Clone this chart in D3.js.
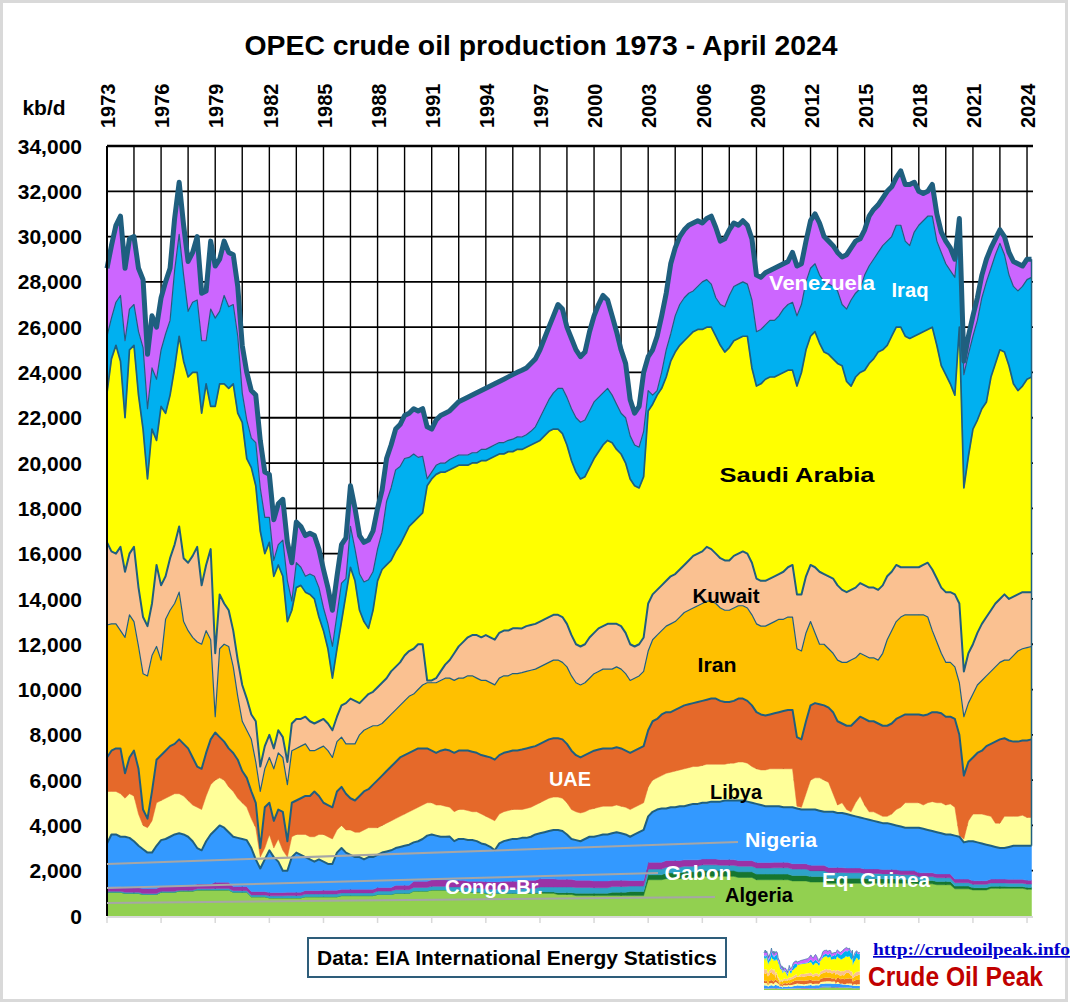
<!DOCTYPE html>
<html><head><meta charset="utf-8">
<script src="https://cdn.jsdelivr.net/npm/d3@7"></script>
<style>body{margin:0;background:#fff}svg{display:block}</style>
</head><body>
<svg id="chart" width="1073" height="1007"></svg>
<script>
// ---------------- DATA (kb/d, quarterly samples Jan/Apr/Jul/Oct, 1973 - Apr 2024) ----------------
const title = "OPEC crude oil production 1973 - April 2024";
const yTickValues = [0,2000,4000,6000,8000,10000,12000,14000,16000,18000,20000,22000,24000,26000,28000,30000,32000,34000];
const yearLabels = ["1973","1976","1979","1982","1985","1988","1991","1994","1997","2000","2003","2006","2009","2012","2015","2018","2021","2024"];
const countries = ["Algeria","Eq. Guinea","Congo-Br.","Gabon","Nigeria","Libya","UAE","Iran","Kuwait","Saudi Arabia","Iraq","Venezuela"];

const algeria = [
1050,1050,1050,1050, 1000,1000,1000,1000, 950,950,950,950, 1050,1050,1050,1050,
1100,1100,1100,1100, 1150,1150,1150,1150, 1150,1150,1150,1150, 1050,1050,1050,1050,
850,850,850,850, 800,800,800,800, 800,800,800,800, 850,850,850,850,
850,850,850,850, 900,900,900,900, 900,900,900,900, 950,950,950,950,
1000,1000,1000,1000, 1100,1100,1100,1100, 1150,1150,1150,1150, 1100,1100,1100,1100,
1050,1050,1050,1050, 1000,1000,1000,1000, 1000,1000,1000,1000, 1000,1000,1000,1000,
1000,1000,1000,1000, 950,950,950,950, 900,900,900,900, 900,900,900,900,
900,900,900,900, 900,900,900,900, 1600,1600,1600,1600, 1650,1650,1650,1650,
1700,1700,1700,1700, 1750,1750,1750,1750, 1750,1750,1750,1750, 1700,1700,1700,1700,
1600,1600,1600,1600, 1600,1600,1600,1600, 1550,1550,1550,1550, 1500,1500,1500,1500,
1450,1450,1450,1450, 1450,1450,1450,1450, 1450,1450,1450,1450, 1450,1450,1450,1450,
1450,1450,1450,1450, 1420,1420,1420,1420, 1380,1380,1380,1380, 1200,1200,1200,1200,
1150,1150,1150,1150, 1220,1220,1220,1220, 1220,1220,1220,1220, 1180,1180];

const eqGuinea = [
0,0,0,0, 0,0,0,0, 0,0,0,0, 0,0,0,0,
0,0,0,0, 0,0,0,0, 0,0,0,0, 0,0,0,0,
0,0,0,0, 0,0,0,0, 0,0,0,0, 0,0,0,0,
0,0,0,0, 0,0,0,0, 0,0,0,0, 0,0,0,0,
0,0,0,0, 0,0,0,0, 0,0,0,0, 5,5,5,5,
5,5,5,5, 5,5,5,5, 5,5,5,5, 20,20,20,20,
60,60,60,60, 80,80,80,80, 100,100,100,100, 100,100,100,100,
150,150,150,150, 180,180,180,180, 220,220,220,220, 250,250,250,250,
250,250,250,250, 250,250,250,250, 250,250,250,250, 250,250,250,250,
250,250,250,250, 250,250,250,250, 240,240,240,240, 240,240,240,240,
220,220,220,220, 220,220,220,220, 200,200,200,200, 190,190,190,190,
170,170,170,170, 150,150,150,150, 140,140,140,140, 120,120,120,120,
100,100,100,100, 90,90,90,90, 80,80,80,80, 80,80];

const congo = [
40,40,40,40, 50,50,50,50, 40,40,40,40, 40,40,40,40,
40,40,40,40, 50,50,50,50, 60,60,60,60, 70,70,70,70,
80,80,80,80, 90,90,90,90, 100,100,100,100, 120,120,120,120,
120,120,120,120, 120,120,120,120, 120,120,120,120, 150,150,150,150,
160,160,160,160, 160,160,160,160, 160,160,160,160, 180,180,180,180,
180,180,180,180, 180,180,180,180, 180,180,180,180, 200,200,200,200,
220,220,220,220, 250,250,250,250, 260,260,260,260, 250,250,250,250,
250,250,250,250, 240,240,240,240, 250,250,250,250, 250,250,250,250,
250,250,250,250, 260,260,260,260, 240,240,240,240, 250,250,250,250,
270,270,270,270, 280,280,280,280, 280,280,280,280, 260,260,260,260,
250,250,250,250, 240,240,240,240, 230,230,230,230, 220,220,220,220,
200,200,200,200, 170,170,170,170, 170,170,170,170, 150,150,150,150,
150,150,150,150, 150,150,150,150, 150,150,150,150, 150,150];

const gabon = [
200,200,200,200, 200,200,200,200, 220,220,220,220, 220,220,220,220,
220,220,220,220, 210,210,210,210, 280,280,280,280, 180,180,180,180,
150,150,150,150, 150,150,150,150, 150,150,150,150, 160,160,160,160,
170,170,170,170, 160,160,160,160, 160,160,160,160, 160,160,160,160,
200,200,200,200, 270,270,270,270, 290,290,290,290, 290,290,290,290,
300,300,300,300, 330,330,330,330, 350,350,350,350, 360,360,360,360,
360,360,360,360, 340,340,340,340, 320,320,320,320, 300,300,300,300,
280,280,280,280, 250,250,250,250, 300,300,300,300, 300,300,300,300,
280,280,280,280, 260,260,260,260, 250,250,250,250, 250,250,250,250,
240,240,240,240, 240,240,240,240, 240,240,240,240, 240,240,240,240,
220,220,220,220, 210,210,210,210, 200,200,200,200, 190,190,190,190,
180,180,180,180, 170,170,170,170, 170,170,170,170, 160,160,160,160,
160,160,160,160, 170,170,170,170, 170,170,170,170, 170,170];

const nigeria = [
1910,2310,2310,2210, 2250,2200,2050,1850, 1740,1590,1590,1890, 2040,2090,2190,2290,
2290,2240,2140,1940, 1590,1490,1890,2190, 2310,2510,2410,2210, 2200,2150,2100,2050,
1920,1420,1020,1420, 1860,1560,1360,960, 950,1550,1750,1650, 1470,1370,1270,1370,
1260,1160,1160,1660, 1820,1620,1520,1420, 1420,1320,1420,1420, 1440,1540,1590,1640,
1640,1690,1740,1790, 1720,1770,1870,2020, 2000,1950,1900,1900, 1930,1730,1830,1830,
1820,1820,1770,1670, 1640,1540,1390,1690, 1770,1820,1870,1870, 1870,1870,1920,2020,
2010,2060,2110,2160, 2180,2130,1980,1780, 1770,1720,1820,1920, 1950,2000,2050,2050,
2070,2120,2070,2020, 1930,2030,2130,2230, 2030,2230,2330,2380, 2300,2350,2350,2400,
2370,2420,2470,2470, 2480,2480,2530,2530, 2560,2610,2610,2610, 2650,2650,2600,2550,
2590,2540,2490,2490, 2480,2480,2430,2430, 2490,2440,2390,2390, 2460,2460,2410,2360,
2460,2460,2410,2410, 2380,2330,2280,2230, 2220,2170,2120,2070, 2050,2050,2000,1950,
1950,1900,1900,1900, 1990,1940,1890,1840, 1840,1790,1740,1740, 1920,1870,1620,1670,
1740,1690,1640,1590, 1470,1420,1370,1370, 1430,1480,1480,1480, 1520,1520];

const libya = [
2300,1900,1900,1900, 1700,1950,2000,1400, 1050,1100,1400,1900, 1750,1800,1800,1800,
1750,1700,1600,1600, 1800,1800,2000,2200, 2200,2100,2100,2000, 2000,1750,1600,1450,
1300,1400,500,500, 700,400,1000,900, 600,900,800,900, 1000,1000,1100,1100,
1200,1200,1100,1000, 1000,1000,1100,1100, 1100,1300,1300,1300, 1200,1200,1250,1300,
1300,1350,1400,1450, 1450,1500,1500,1450, 1400,1350,1400,1350, 1300,1300,1300,1300,
1300,1250,1300,1300, 1250,1250,1300,1300, 1300,1300,1300,1300, 1250,1300,1300,1300,
1350,1400,1450,1450, 1450,1450,1400,1300, 1250,1250,1200,1200, 1250,1250,1250,1250,
1200,1200,1200,1200, 1200,1200,1200,1200, 1300,1400,1400,1450, 1550,1550,1600,1600,
1650,1650,1650,1650, 1650,1700,1650,1650, 1650,1600,1650,1650, 1700,1700,1700,1600,
1550,1550,1600,1650, 1650,1650,1700,1700, 1700,100,100,700, 1300,1400,1450,1400,
1300,800,350,450, 200,150,600,950, 600,350,400,350, 300,300,450,700,
850,1100,1100,1100, 1100,1050,1200,1300, 1300,1350,1300,1350, 1250,50,150,900,
1200,1250,1300,1300, 1300,1050,1100,1400, 1350,1300,1300,1350, 1250,1250];

const uae = [
1500,1800,1900,2000, 1100,1600,2000,2000, 700,400,1300,1900, 2000,2100,2200,2200,
2400,2300,2300,2100, 1800,1800,1900,2000, 2100,1800,1700,1700, 1700,1700,1400,1300,
1200,1100,400,1800, 1400,1200,1300,1700, 700,1500,1500,1600, 1700,1800,2000,1700,
1400,1400,1400,1700, 1700,1600,1400,1400, 1600,1700,1700,1900, 2100,2200,2300,2400,
2500,2600,2600,2600, 2600,2600,2500,2400, 2300,2300,2400,2500, 2500,2600,2600,2600,
2650,2650,2600,2600, 2650,2700,2700,2600, 2600,2600,2600,2600, 2650,2650,2650,2600,
2600,2600,2600,2600, 2600,2600,2600,2600, 2500,2450,2500,2500, 2550,2550,2550,2550,
2550,2550,2550,2500, 2500,2500,2500,2500, 2500,2600,2600,2700, 2700,2650,2700,2750,
2800,2800,2800,2850, 2850,2850,2900,2900, 2800,2750,2700,2750, 2800,2800,2750,2700,
2500,2450,2400,2400, 2450,2500,2550,2600, 2600,3050,3000,3200, 3300,3300,3250,3300,
3300,3600,3700,3500, 3700,3800,3600,3500, 3800,4000,4000,4000, 4000,4000,4000,4000,
4000,3900,3900,3900, 3900,3950,3900,3950, 4000,3950,3900,3850, 3900,4450,2800,2600,
2500,2700,2800,3050, 3200,3600,3700,3450, 3350,3300,3300,3300, 3400,3450];

const iran = [
5850,5600,5500,5200, 6000,6300,5700,5400, 6000,6300,6000,5000, 4200,5800,6000,6200,
6500,5400,5200,5300, 5500,5500,5400,4400, 700,3900,4300,4500, 3800,2800,2200,2100,
2300,1800,2500,1700, 2000,2300,2500,2400, 2500,2300,2300,2300, 2300,2000,1800,2100,
2500,2400,2200,2200, 2200,2200,2400,2500, 2700,2700,2700,2600, 2400,2300,2300,2300,
2300,2300,2400,2500, 2500,2600,2800,2900, 3000,3100,3100,3150, 3200,3200,3200,3200,
3300,3350,3300,3300, 3350,3300,3300,3400, 3400,3350,3400,3400, 3400,3400,3400,3400,
3400,3400,3400,3450, 3450,3400,3400,3300, 3200,3200,3200,3300, 3400,3450,3500,3500,
3500,3550,3500,3400, 3200,3200,3200,3300, 3500,3600,3700,3700, 3800,3900,3900,4000,
4100,4150,4200,4250, 4300,4350,4300,4200, 4100,4050,4050,4100, 4100,4100,4100,4000,
3900,3900,3950,4000, 4050,4100,4050,4100, 4100,3900,3900,3900, 3700,3100,2650,2700,
2600,2600,2700,2700, 2800,2900,2800,2800, 2800,2800,2800,2800, 3200,3800,4100,4300,
4400,4400,4400,4400, 4400,4450,4300,3600, 3100,2650,2400,2400, 2300,2300,2600,2600,
2800,3000,3100,3100, 3200,3300,3400,3450, 3550,3800,4000,4050, 4100,4100];

const kuwait = [
3650,3200,3100,3700, 2900,2700,3300,2600, 2500,2200,2300,3600, 3300,1900,2300,2600,
2900,2800,3000,3600, 4200,2600,2900,4000, 2800,2400,1800,1600, 1600,1600,1600,1400,
1100,1800,1100,1000, 1000,900,1000,900, 1000,1200,1300,1200, 1200,1300,1200,1200,
1200,1200,1200,1100, 1400,1800,2000,1900, 1400,1400,1500,1500, 1700,1800,1800,1900,
1900,1900,2000,2000, 2000,2000,1800,100, 100,200,400,600, 800,1200,1400,1600,
1700,1800,1900,1900, 2000,2000,2000,2000, 2000,2000,2000,2000, 1950,2000,2000,2000,
2000,2000,2000,2000, 2000,2000,1900,1800, 1700,1700,1700,1800, 1800,1900,1900,2000,
2000,1900,1900,1800, 1600,1400,1400,1500, 2100,2000,2000,2000, 2000,2100,2100,2100,
2100,2200,2300,2300, 2300,2400,2300,2200, 2200,2200,2200,2300, 2300,2400,2400,2300,
2000,2000,2000,2000, 2000,2000,2100,2200, 2300,2400,2500,2500, 2500,2900,3200,3100,
3200,3300,3300,3200, 3100,3100,3100,3100, 3100,3100,3100,3100, 3000,2800,2600,2500,
2200,2100,2100,2100, 2100,2200,2400,2700, 2800,2900,3100,3100, 3200,3500,2000,2200,
2200,2300,2500,2600, 2700,2800,2800,2900, 2700,2600,2500,2500, 2450,2400];

const saudi = [
6600,8500,9200,8200, 6800,9000,8900,8500, 8300,6500,7700,5500, 7900,7200,7200,7800,
8400,8700,8200,8100, 7700,7600,8000,6300, 10900,9300,9700,9800, 10900,10900,11600,10600,
10900,10400,10400,8500, 8500,7600,7300,7100, 6200,5000,5800,5900, 5500,5600,5500,4600,
3900,3300,2300,3000, 3700,4800,5800,5300, 4100,3400,2900,3600, 4700,5000,5000,4900,
5100,5200,5300,5500, 5600,5600,5800,8600, 8900,9000,8800,8500, 8400,8200,8000,7800,
7600,7600,7600,7800, 7700,7900,8100,7900, 7800,7900,7800,7900, 7900,7900,7950,8000,
8000,8100,8200,8200, 8200,8100,7900,7700, 7600,7400,7400,7500, 7700,7800,8000,8100,
8000,7700,7600,7500, 7300,7100,6900,7100, 8500,8400,8600,8700, 9000,9500,9800,9900,
9900,9900,9900,9900, 9800,9700,9800,9600, 9400,9200,9400,9500, 9500,9500,9600,8600,
8500,8700,8900,8900, 8800,8800,8800,8700, 8600,9200,9800,10000, 10100,10400,10100,9800,
9800,9700,9800,9900, 9300,9000,9300,9300, 9500,9900,10100,10500, 10400,10200,10400,10500,
10600,10200,10100,10200, 10300,10300,10300,10700, 10300,9800,9600,9200, 8800,12200,8100,8700,
9500,9400,9500,9500, 10300,10600,11000,10700, 10300,9400,9000,9100, 9400,9500];

const iraq = [
2500,1800,1900,2900, 3400,1800,1800,2800, 3600,3100,2700,2700, 2500,3500,3300,4300,
4500,3800,2900,3100, 3200,3200,1900,4300, 3900,3200,3900,3600, 3500,3400,1300,1700,
1300,1900,1900,1600, 1100,700,900,1600, 1800,400,1100,800, 700,900,1000,1300,
1000,1100,1400,1500, 1700,700,1800,1400, 1600,1750,2150,1700, 1400,1650,2800,3200,
3600,3450,3400,3050, 3000,2650,2500,300, 300,400,400,400, 450,450,450,450,
450,450,450,500, 500,500,500,500, 500,500,550,550, 550,550,600,700,
1000,1200,1400,1600, 1800,2000,2100,2300, 2400,2500,2500,2500, 2500,2400,2300,2300,
2100,2000,1800,2000, 1900,1800,1800,2000, 900,400,200,700, 1200,1200,1600,1800,
1900,1900,1800,1900, 2100,2100,1900,1700, 1800,2000,2300,2400, 2400,2400,2300,3000,
2400,2400,2400,2500, 2500,2600,2800,2900, 3000,3100,3000,3000, 3000,3000,3000,3100,
3100,3200,3200,2700, 3200,3800,3700,3700, 4200,4300,4400,4400, 4600,4600,4400,4500,
4500,4200,4100,4600, 4800,4900,5000,4900, 4600,5000,4900,5000, 5200,4300,5000,4500,
4100,4400,4900,5300, 4800,4800,4700,4300, 4000,4300,4400,4400, 4400,4400];

const venezuela = [
3000,3200,3400,3500, 3200,3100,3000,2800, 3000,2400,2300,2300, 2300,2300,2300,2300,
2300,2200,2200,2200, 2800,2100,2200,3000, 2300,2300,2400,2400, 2200,2200,2100,2100,
2100,2100,2100,2000, 1900,1800,1800,1800, 1700,1700,1800,1800, 1800,1800,1800,1700,
1700,1600,1600,1700, 1700,1800,1800,1800, 1700,1750,1750,1800, 1800,1850,1900,1900,
1800,1850,1900,1950, 2000,2050,2100,2300, 1900,2000,2100,2200, 2150,2250,2350,2450,
2550,2550,2650,2600, 2700,2700,2700,2700, 2800,2800,2850,2850, 2950,2950,3000,3000,
3000,3100,3200,3400, 3700,3500,3100,3100, 3000,2900,3000,3500, 3800,4100,4300,3900,
3500,3200,2800,2400, 1600,1400,1800,2600, 1500,2000,2400,2500, 2500,3100,3000,3000,
3000,3000,3000,2900, 2600,2700,3000,3100, 2800,3000,2900,2800, 2600,2700,2600,2700,
2500,2300,2300,2200, 2300,2200,2000,1900, 2200,2200,1800,1800, 2100,2200,2300,2000,
1900,1800,1700,2100, 2400,2300,2300,2200, 2000,2200,2200,2100, 2100,2200,2200,2100,
2400,2500,2700,2200, 1500,1200,1100,1400, 1200,900,1000,1000, 800,500,600,800,
900,1000,1000,1000, 900,700,600,800, 1000,1100,1200,900, 900,800];

const seriesByCountry = {
  "Algeria": algeria, "Eq. Guinea": eqGuinea, "Congo-Br.": congo, "Gabon": gabon,
  "Nigeria": nigeria, "Libya": libya, "UAE": uae, "Iran": iran, "Kuwait": kuwait,
  "Saudi Arabia": saudi, "Iraq": iraq, "Venezuela": venezuela
};

// ---------------- STYLE ----------------
const colors = {
  "Algeria":"#92d050", "Eq. Guinea":"#16762f", "Congo-Br.":"#2ea3c8", "Gabon":"#9a32a6",
  "Nigeria":"#3399ff", "Libya":"#ffff99", "UAE":"#e5692a", "Iran":"#ffc000",
  "Kuwait":"#fac191", "Saudi Arabia":"#ffff00", "Iraq":"#00b0f0", "Venezuela":"#cc66ff"
};
const outlineWidth = {"Nigeria":2,"UAE":2,"Iran":1.2,"Kuwait":2,"Saudi Arabia":1.7,"Iraq":1.2,"Venezuela":5};
const lineColor = "#1f5f7f";

const svg = d3.select("#chart");
const start = new Date(1973,0,1), end = new Date(2024,4,1);
const dates = d3.timeMonth.range(start, new Date(2024,3,2), 3);
const rows = dates.map((d,i)=>{ const r={date:d}; countries.forEach(c=>r[c]=seriesByCountry[c][i]); return r; });
const layers = d3.stack().keys(countries)(rows);

const L=107, R=1033, T=146, B=916;
const x = d3.scaleTime().domain([start,end]).range([L,R]);
const y = d3.scaleLinear().domain([0,34000]).range([B,T]);

// outer frame
svg.append("rect").attr("x",1.5).attr("y",1.5).attr("width",1065).attr("height",999)
  .attr("fill","none").attr("stroke","#d9d9d9").attr("stroke-width",3);

// gridlines
const grid = svg.append("g");
yTickValues.filter(v=>v>0).forEach(v=>{
  grid.append("line").attr("x1",L).attr("x2",R).attr("y1",y(v)).attr("y2",y(v))
    .attr("stroke","#000").attr("stroke-width", v===34000?2.6:1.8);
});
d3.timeMonth.range(start, end, 18).forEach(d=>{
  grid.append("line").attr("x1",x(d)).attr("x2",x(d)).attr("y1",T).attr("y2",B)
    .attr("stroke","#000").attr("stroke-width",1.4);
});

// areas
const area = d3.area().x(d=>x(d.data.date)).y0(d=>y(d[0])).y1(d=>y(d[1]));
svg.append("g").selectAll("path").data(layers).join("path")
  .attr("d",area).attr("fill",d=>colors[d.key]).attr("stroke",d=>colors[d.key]).attr("stroke-width",0.5);

// outlines
const topLine = d3.line().x(d=>x(d.data.date)).y(d=>y(d[1]));
const outlines = svg.append("g").attr("fill","none").attr("stroke",lineColor).attr("stroke-linejoin","round");
layers.filter(l=>outlineWidth[l.key]).forEach(l=>{
  outlines.append("path").attr("d",topLine(l)).attr("stroke-width",outlineWidth[l.key]);
});
const lastIdx = rows.length-1;
const nigLayer = layers[countries.indexOf("Nigeria")], topLayer = layers[layers.length-1];
outlines.append("line").attr("x1",x(dates[lastIdx])).attr("x2",x(dates[lastIdx]))
  .attr("y1",y(nigLayer[lastIdx][1])).attr("y2",y(topLayer[lastIdx][1])).attr("stroke-width",1.5);

// left axis line
svg.append("line").attr("x1",L).attr("x2",L).attr("y1",T).attr("y2",B).attr("stroke","#000").attr("stroke-width",2);

// bottom axis (gray) with ticks every 3 years
svg.append("line").attr("x1",L).attr("x2",R).attr("y1",B+1).attr("y2",B+1).attr("stroke","#d9d9d9").attr("stroke-width",2);
d3.timeMonth.range(start, end, 36).forEach(d=>{
  svg.append("line").attr("x1",x(d)).attr("x2",x(d)).attr("y1",B+1).attr("y2",B+7).attr("stroke","#d9d9d9").attr("stroke-width",1.5);
});

// y labels
const font = "'Liberation Sans', Arial, sans-serif";
svg.append("g").selectAll("text").data(yTickValues).join("text")
  .attr("x",82).attr("y",v=>y(v)).attr("dy","0.36em").attr("text-anchor","end")
  .attr("font-family",font).attr("font-weight","bold").attr("font-size",21).attr("fill","#000")
  .text(d3.format(","));
svg.append("text").attr("x",44).attr("y",115).attr("text-anchor","middle")
  .attr("font-family",font).attr("font-weight","bold").attr("font-size",21).text("kb/d");

// top year labels
const labelDates = d3.timeMonth.range(start, end, 36);
svg.append("g").selectAll("text").data(yearLabels).join("text")
  .attr("transform",(t,i)=>`translate(${x(labelDates[i])+1},128) rotate(-90)`)
  .attr("dy","0.36em").attr("text-anchor","start")
  .attr("font-family",font).attr("font-weight","bold").attr("font-size",20).text(t=>t);

// title
svg.append("text").attr("x",541).attr("y",55).attr("text-anchor","middle")
  .attr("font-family","'Liberation Sans Narrow','Arial Narrow',"+font).attr("font-weight","bold").attr("font-size",27)
  .attr("textLength",593).attr("lengthAdjust","spacingAndGlyphs").text(title);

// leader lines
const leaders = [[107,864,738,842],[107,888,658,873],[107,903,715,897]];
svg.append("g").selectAll("line").data(leaders).join("line")
  .attr("x1",d=>d[0]).attr("y1",d=>d[1]).attr("x2",d=>d[2]).attr("y2",d=>d[3])
  .attr("stroke","#a6a6a6").attr("stroke-width",2);

// series labels
const seriesLabels = [
  {t:"Venezuela",x:822,y:290,c:"#fff",w:106},
  {t:"Iraq",x:910,y:297,c:"#fff",w:37},
  {t:"Saudi Arabia",x:797,y:482,c:"#000",w:155},
  {t:"Kuwait",x:726,y:603,c:"#000",w:67},
  {t:"Iran",x:717,y:672,c:"#000",w:39},
  {t:"UAE",x:570,y:786,c:"#fff",w:42},
  {t:"Libya",x:736,y:799,c:"#000",w:52},
  {t:"Nigeria",x:781,y:847,c:"#fff",w:72},
  {t:"Gabon",x:698,y:880,c:"#fff",w:67},
  {t:"Eq. Guinea",x:876,y:887,c:"#fff",w:108},
  {t:"Congo-Br.",x:494,y:894,c:"#fff",w:98},
  {t:"Algeria",x:759,y:902,c:"#000",w:68}
];
svg.append("g").selectAll("text").data(seriesLabels).join("text")
  .attr("x",d=>d.x).attr("y",d=>d.y).attr("text-anchor","middle")
  .attr("font-family",font).attr("font-weight","bold").attr("font-size",20)
  .attr("fill",d=>d.c).attr("textLength",d=>d.w).attr("lengthAdjust","spacingAndGlyphs")
  .text(d=>d.t);

// source box
svg.append("rect").attr("x",308).attr("y",938).attr("width",418).attr("height",39)
  .attr("fill","#fff").attr("stroke","#2e5d7a").attr("stroke-width",2);
svg.append("text").attr("x",517).attr("y",965).attr("text-anchor","middle")
  .attr("font-family","'Liberation Sans Narrow','Arial Narrow',"+font).attr("font-weight","bold").attr("font-size",20)
  .attr("textLength",400).attr("lengthAdjust","spacingAndGlyphs")
  .text("Data: EIA International Energy Statistics");

// logo: mini stacked chart + text
const xm = d3.scaleTime().domain([start,end]).range([764,860]);
const ym = d3.scaleLinear().domain([0,34000]).range([990,946]);
const areaMini = d3.area().x(d=>xm(d.data.date)).y0(d=>ym(d[0])).y1(d=>ym(d[1]));
svg.append("g").selectAll("path").data(layers).join("path")
  .attr("d",areaMini).attr("fill",d=>colors[d.key]);
svg.append("path").attr("d",d3.line().x(d=>xm(d.data.date)).y(d=>ym(d[1]))(topLayer))
  .attr("fill","none").attr("stroke","#3a7ca5").attr("stroke-width",0.8);
svg.append("text").attr("x",873).attr("y",955)
  .attr("font-family","'Liberation Serif','Times New Roman',serif").attr("font-weight","bold").attr("font-size",17)
  .attr("fill","#0000cc").attr("text-decoration","underline")
  .attr("textLength",197).attr("lengthAdjust","spacingAndGlyphs").text("http://crudeoilpeak.info");
svg.append("text").attr("x",868).attr("y",986)
  .attr("font-family","'Liberation Sans Narrow','Arial Narrow',"+font).attr("font-weight","bold").attr("font-size",27)
  .attr("fill","#c00000").attr("textLength",175).attr("lengthAdjust","spacingAndGlyphs").text("Crude Oil Peak");
</script>
</body></html>
